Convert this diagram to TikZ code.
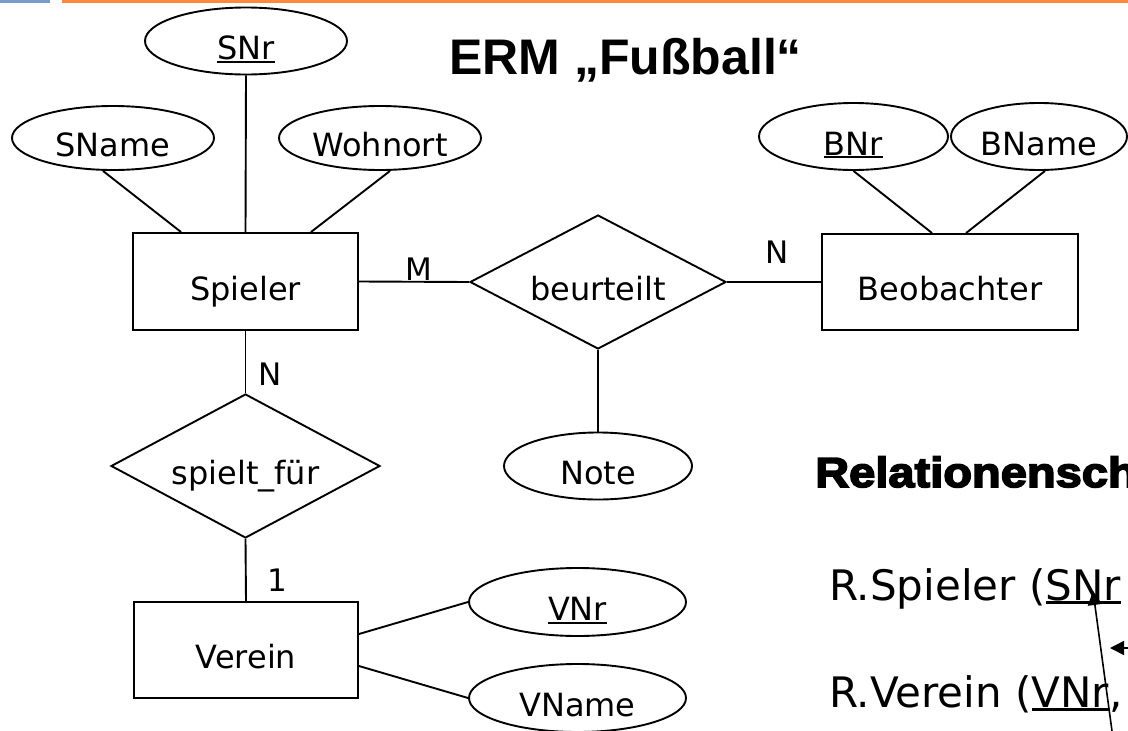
\documentclass[tikz,border=0pt]{standalone}
\usepackage{fontspec}
\setmainfont{DejaVu Sans}
\newfontfamily\titlefont{Liberation Sans}
\newfontfamily\heavyfont{Liberation Sans}[UprightFont={* Bold},FakeBold=4,FakeStretch=1.12]
\usetikzlibrary{shapes.geometric,arrows.meta}
\definecolor{barblue}{HTML}{7C9BCD}
\definecolor{barorange}{HTML}{FF8A3D}
% key attribute: text with a thin rule just under the baseline
\newcommand{\keyattr}[1]{\setbox0\hbox{#1}\rlap{\rule[-0.09em]{\wd0}{0.06em}}\box0}
\tikzset{
  ershape/.style={draw, line width=1.9pt, inner sep=0pt, text height=37.4pt, text depth=0pt,
    font=\fontsize{32}{38}\selectfont},
  entity/.style={ershape, rectangle},
  attribute/.style={ershape, ellipse},
  relation/.style={ershape, diamond, aspect=1.87},
  erline/.style={line width=1.9pt},
  card/.style={anchor=base, inner sep=0pt, font=\fontsize{31}{36}\selectfont},
  schema/.style={anchor=base west, inner sep=0pt, font=\fontsize{42}{48}\selectfont},
  pointer/.style={line width=1.6pt, -{Triangle[length=14pt,width=14pt]}}
}
\begin{document}
\begin{tikzpicture}[x=1pt,y=-1pt]
\useasboundingbox (0,0) rectangle (1128,731);
% header bars
\fill[barblue] (0,0) rectangle (50,3);
\fill[barorange] (62,0) rectangle (1128,3);

% title
\node[anchor=base west, inner sep=0pt, font=\titlefont\bfseries\fontsize{50}{56}\selectfont]
  (title) at (449,74) {ERM „Fußball“};

% entities
\node[entity, minimum width=225pt, minimum height=97pt] (Spieler) at (245.5,281.5) {Spieler};
\node[entity, minimum width=256pt, minimum height=96pt] (Beobachter) at (950,282) {Beobachter};
\node[entity, minimum width=224pt, minimum height=96pt] (Verein) at (246,650) {Verein};

% relationships
\node[relation, minimum width=256pt, minimum height=134pt] (beurteilt) at (598,282) {beurteilt};
\node[relation, minimum width=269pt, minimum height=144pt] (spielt) at (245.5,466) {spielt\_für};

% attributes
\node[attribute, minimum width=202pt, minimum height=67pt] (SNr) at (246,41) {\keyattr{SNr}};
\node[attribute, minimum width=202pt, minimum height=64pt] (SName) at (113,138) {SName};
\node[attribute, minimum width=202pt, minimum height=64pt] (Wohnort) at (380,138) {Wohnort};
\node[attribute, minimum width=189pt, minimum height=67pt] (BNr) at (853.5,136.5) {\keyattr{BNr}};
\node[attribute, minimum width=176pt, minimum height=67pt] (BName) at (1039,136.5) {BName};
\node[attribute, minimum width=188pt, minimum height=67pt] (Note) at (598,466) {Note};
\node[attribute, minimum width=217pt, minimum height=68pt] (VNr) at (577.5,602) {\keyattr{VNr}};
\node[attribute, minimum width=217pt, minimum height=68pt] (VName) at (577.5,698) {VName};

% connections
\draw[erline] ([xshift=-10pt]SName.south) -- ([xshift=49pt]Spieler.north west);
\draw[erline] (SNr.south) -- (Spieler.north);
\draw[erline] ([xshift=10pt]Wohnort.south) -- ([xshift=-48pt]Spieler.north east);
\draw[erline] (Spieler.east) -- (beurteilt.west);
\draw[erline] (beurteilt.east) -- (Beobachter.west);
\draw[erline] (beurteilt.south) -- (Note.north);
\draw[erline] (BNr.south) -- ([xshift=111pt]Beobachter.north west);
\draw[erline] ([xshift=6pt]BName.south) -- ([xshift=145pt]Beobachter.north west);
\draw[erline] (Spieler.south) -- (spielt.north);
\draw[erline] (spielt.south) -- (Verein.north);
\draw[erline] ([yshift=16pt]Verein.east) -- (VNr.west);
\draw[erline] ([yshift=-16pt]Verein.east) -- (VName.west);

% cardinalities
\node[card] (cM) at (419,280) {M};
\node[card] (cN1) at (777,263) {N};
\node[card] (cN2) at (270,385) {N};
\node[card] (c1) at (277,591) {1};

% relational schema
\node[anchor=base west, inner sep=0pt, font=\heavyfont\fontsize{42}{48}\selectfont]
  (schemahead) at (815,487) {Relationensch};
\node[schema] (rSpieler) at (829,600) {R.Spieler (\keyattr{SNr}};
\node[schema] (rVerein) at (829,707) {R.Verein (\keyattr{VNr},};

% reference arrows
\coordinate (fkfoot) at (1112,731);
\coordinate (fktip) at (1093,591);
\coordinate (pkfoot) at (1128,648);
\coordinate (pktip) at (1110,648);
\draw[pointer] (fkfoot) -- (fktip);
\draw[pointer] (pkfoot) -- (pktip);
\end{tikzpicture}
\end{document}
